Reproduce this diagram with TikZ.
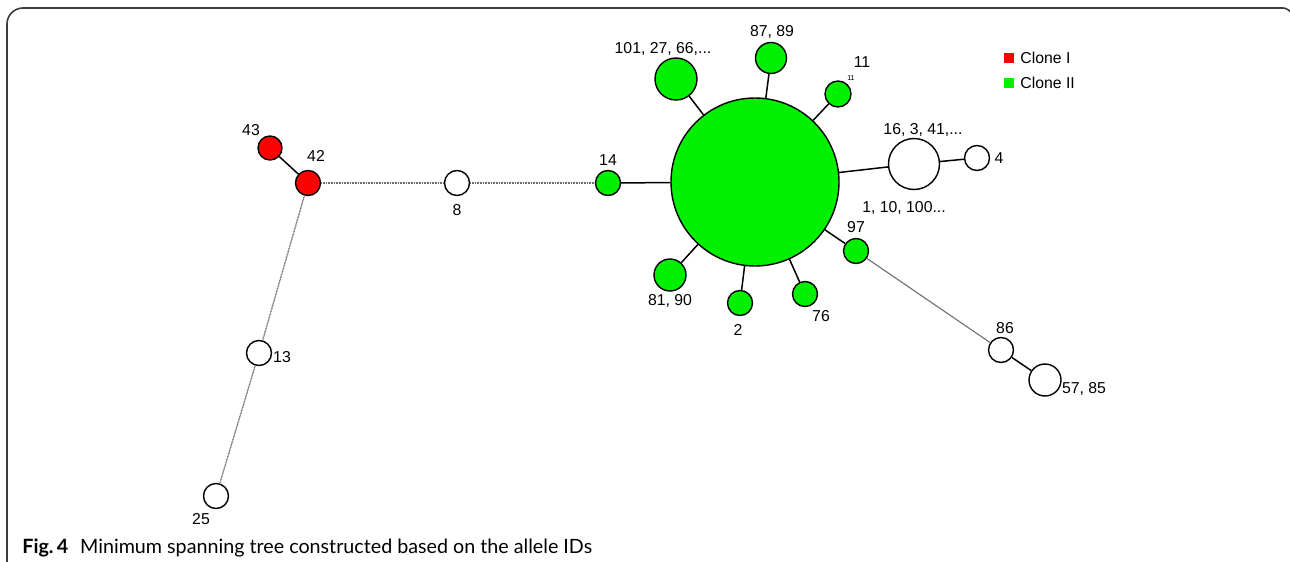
\documentclass[tikz,border=0pt]{standalone}
\usepackage{fontspec}
\setmainfont{Liberation Sans}
\newfontfamily\capfont{Lato}
\definecolor{cloneone}{RGB}{255,0,0}
\definecolor{clonetwo}{RGB}{0,240,0}
\definecolor{linkgray}{RGB}{110,110,110}
\definecolor{framegray}{RGB}{60,60,60}
\begin{document}
\begin{tikzpicture}[x=0.5pt,y=-0.5pt,
  nd/.style={circle,draw=black,line width=0.7pt,inner sep=0pt,minimum size=#1*0.5pt},
  red/.style={fill=cloneone},
  grn/.style={fill=clonetwo},
  wht/.style={fill=white},
  lbl/.style={inner sep=0pt,font=\fontsize{7.9}{9}\selectfont},
  solidlink/.style={draw=black,line width=0.75pt},
  farlink/.style={draw=linkgray,line width=0.65pt,dash pattern=on 0.5pt off 0.3pt},
  thinlink/.style={draw=linkgray,line width=0.55pt}]
\useasboundingbox (0,0) rectangle (1290,562);
% open frame around the figure
\draw[framegray,line width=0.8pt,rounded corners=8pt] (7,570) -- (7,8) -- (1283,8);
\draw[framegray,line width=0.8pt] (1283,8) .. controls (1287,8) and (1290,11) .. (1292,14);

% nodes
\node[nd=24,red] (n43) at (270,148) {};
\node[nd=25,red] (n42) at (308,183) {};
\node[nd=25,wht] (n8) at (457,183) {};
\node[nd=25,grn] (n14) at (608,183) {};
\node[nd=168,grn] (big) at (755,182) {};
\node[nd=42,grn] (n101) at (676,79) {};
\node[nd=31,grn] (n87) at (771,58) {};
\node[nd=26,grn] (n11) at (838,94) {};
\node[nd=51,wht] (n16) at (914,164) {};
\node[nd=25,wht] (n4) at (977,158) {};
\node[nd=25,grn] (n97) at (856,251) {};
\node[nd=32,grn] (n81) at (670,275) {};
\node[nd=25,grn] (n2) at (740,303) {};
\node[nd=25,grn] (n76) at (805,294) {};
\node[nd=25,wht] (n86) at (1001,350) {};
\node[nd=32,wht] (n57) at (1045,380) {};
\node[nd=25,wht] (n13) at (259,353) {};
\node[nd=25,wht] (n25) at (216,496) {};

% links
\draw[solidlink] (n43) -- (n42);
\draw[solidlink] (n14) -- (big);
\draw[solidlink] (big) -- (n101);
\draw[solidlink] (big) -- (n87);
\draw[solidlink] (big) -- (n11);
\draw[solidlink] (big) -- (n16);
\draw[solidlink] (n16) -- (n4);
\draw[solidlink] (big) -- (n97);
\draw[solidlink] (big) -- (n81);
\draw[solidlink] (big) -- (n2);
\draw[solidlink] (big) -- (n76);
\draw[solidlink] (n86) -- (n57);
\draw[farlink] (n42) -- (n8);
\draw[farlink] (n8) -- (n14);
\draw[farlink] (n42) -- (n13);
\draw[farlink] (n13) -- (n25);
\draw[thinlink] (n97) -- (n86);

% labels
\node[lbl] (l43) at (251,130) {43};
\node[lbl] (l42) at (316,156) {42};
\node[lbl] (l8) at (457,210) {8};
\node[lbl] (l14) at (608,160) {14};
\node[lbl] (lbig) at (904,208) {1, 10, 100...};
\node[lbl] (l101) at (663,49) {101, 27, 66,...};
\node[lbl] (l87) at (772,32) {87, 89};
\node[lbl] (l11) at (862,62) {11};
\node[inner sep=0pt,font=\fontsize{3.6}{4}\selectfont] (l11s) at (851,78) {11};
\node[lbl] (l16) at (923,130) {16, 3, 41,...};
\node[lbl] (l4) at (999,158) {4};
\node[lbl] (l97) at (856,227) {97};
\node[lbl] (l81) at (670,301) {81, 90};
\node[lbl] (l2) at (738,330) {2};
\node[lbl] (l76) at (821,316) {76};
\node[lbl] (l86) at (1005,328) {86};
\node[lbl] (l57) at (1084,389) {57, 85};
\node[lbl] (l13) at (282,357) {13};
\node[lbl] (l25) at (201,519) {25};

% legend
\node[fill=cloneone,minimum size=5pt,inner sep=0pt] (kred) at (1009,58) {};
\node[lbl,anchor=west] (kredt) at (1020,58) {Clone I};
\node[fill=clonetwo,minimum size=5pt,inner sep=0pt] (kgrn) at (1009,83) {};
\node[lbl,anchor=west] (kgrnt) at (1020,83) {Clone II};

% caption
\node[anchor=west,inner sep=0pt,font=\capfont\fontsize{9.85}{12}\selectfont] (cap) at (22,548)
  {\textbf{Fig.\,4}\hspace{0.6em}Minimum spanning tree constructed based on the allele IDs};
\end{tikzpicture}
\end{document}
